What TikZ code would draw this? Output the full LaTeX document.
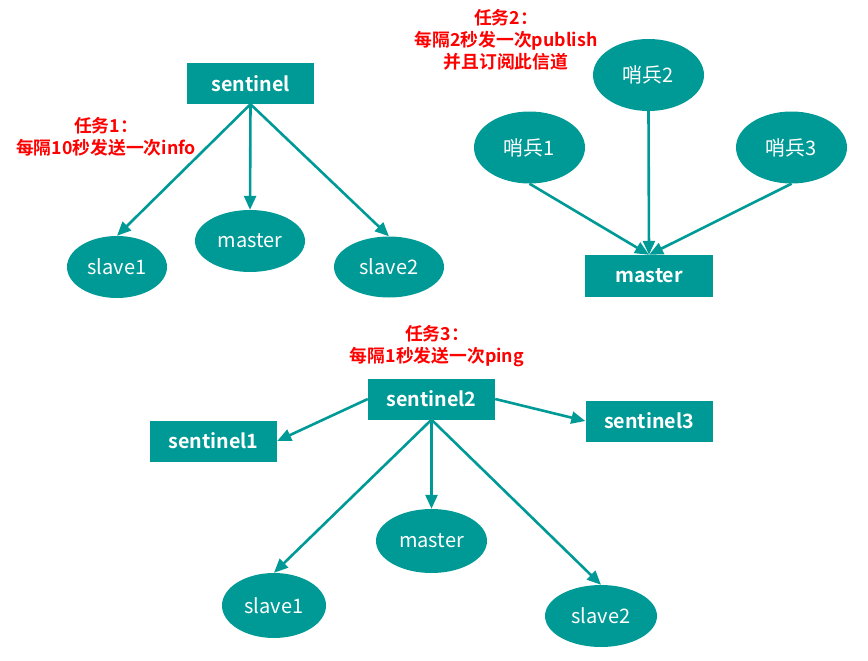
\documentclass[tikz,border=0pt]{standalone}
\usepackage{fontspec}
\setmainfont{Noto Sans CJK SC}[BoldFont={Noto Sans CJK SC Bold}]
\usetikzlibrary{shapes.geometric,arrows.meta}
\definecolor{teal1}{HTML}{009A96}
\tikzset{
  box/.style={rectangle, fill=teal1, text=white, font=\bfseries\fontsize{19.7}{21}\selectfont, minimum width=127pt, minimum height=41pt, inner sep=0pt},
  ell/.style={ellipse, fill=teal1, text=white, font=\fontsize{20}{22}\selectfont, inner sep=0pt},
  lab/.style={text=red, font=\bfseries\fontsize{17.8}{22}\selectfont, align=center},
  arr/.style={draw=teal1, line width=2.6pt, -{Triangle[length=14pt,width=12pt]}}
}
\begin{document}
\begin{tikzpicture}[x=1pt,y=-1pt]
\useasboundingbox (0,0) rectangle (868,661);
% group 1
\node[box] (s1) at (250.5,83.5) {sentinel};
\node[ell, minimum width=100pt, minimum height=62pt] (g1sl1) at (117,267) {slave1};
\node[ell, minimum width=110pt, minimum height=62pt] (g1m) at (250,241) {master};
\node[ell, minimum width=110pt, minimum height=61pt] (g1sl2) at (389,267) {slave2};
\node[lab] (t1) at (106,137) {任务1：\\每隔10秒发送一次info};
\draw[arr] (s1.south) -- (g1sl1.north);
\draw[arr] (s1.south) -- (g1m.north);
\draw[arr] (s1.south) -- (g1sl2.north);
% group 2
\node[lab] (t2) at (506,40) {任务2：\\每隔2秒发一次publish\\并且订阅此信道};
\node[ell, minimum width=111pt, minimum height=72pt] (b2) at (648.5,75) {哨兵2};
\node[ell, minimum width=111pt, minimum height=72pt] (b1) at (529.5,147.5) {哨兵1};
\node[ell, minimum width=111pt, minimum height=72pt] (b3) at (791.5,147.5) {哨兵3};
\node[box, minimum width=128pt, minimum height=42pt] (g2m) at (649,276) {master};
\draw[arr] (b1.south) -- (g2m.north);
\draw[arr] (b2.south) -- (g2m.north);
\draw[arr] (b3.south) -- (g2m.north);
% group 3
\node[lab] (t3) at (437,346.5) {任务3：\\每隔1秒发送一次ping};
\node[box] (sn2) at (431.5,399) {sentinel2};
\node[box] (sn1) at (213.5,441) {sentinel1};
\node[box] (sn3) at (649,421) {sentinel3};
\node[ell, minimum width=111pt, minimum height=64pt] (g3m) at (431.5,541) {master};
\node[ell, minimum width=104pt, minimum height=65pt] (g3sl1) at (274,605.5) {slave1};
\node[ell, minimum width=112pt, minimum height=62pt] (g3sl2) at (601,616) {slave2};
\draw[arr] (sn2.west) -- (sn1.east);
\draw[arr] (sn2.east) -- (sn3.west);
\draw[arr] (sn2.south) -- (g3sl1.north);
\draw[arr] (sn2.south) -- (g3m.north);
\draw[arr] (sn2.south) -- (g3sl2.north);
\end{tikzpicture}
\end{document}
